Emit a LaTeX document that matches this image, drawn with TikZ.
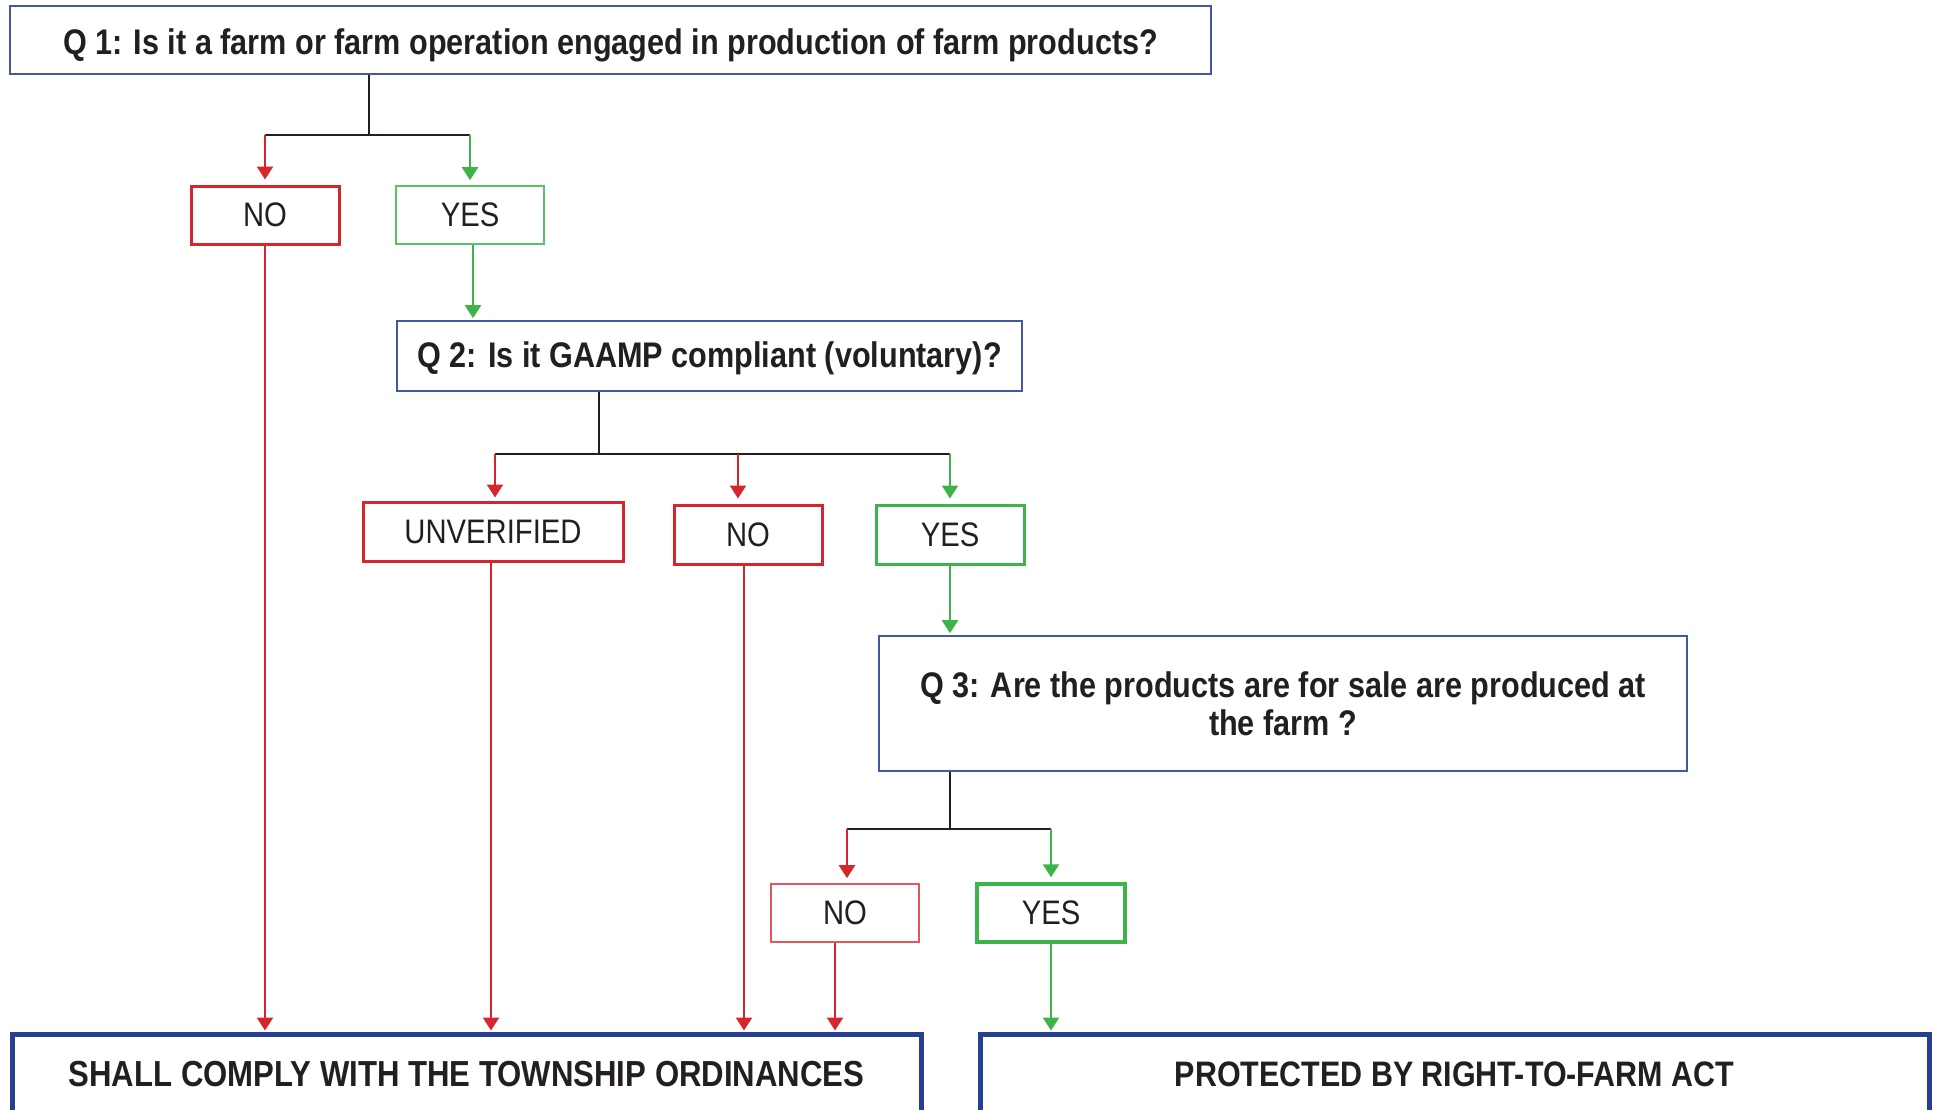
\documentclass[tikz,border=0pt]{standalone}
\usepackage{fontspec}
\setmainfont{Liberation Sans}[FakeStretch=0.86]
\usetikzlibrary{arrows.meta}
\definecolor{qblue}{HTML}{4456A6}
\definecolor{dblue}{HTML}{263F92}
\definecolor{rd}{HTML}{D6262D}
\definecolor{lrd}{HTML}{E0575C}
\definecolor{gr}{HTML}{3DB449}
\definecolor{lgr}{HTML}{5CC067}
\definecolor{txt}{HTML}{231F20}
\begin{document}
\begin{tikzpicture}[x=1pt,y=-1pt,
  box/.style={draw, inner sep=0pt, align=center, text=txt},
  qbox/.style={box, draw=qblue, line width=1.6pt, font=\fontsize{35.6}{38}\selectfont\bfseries},
  rbox/.style={box, draw=rd, line width=3pt, minimum height=58pt, font=\fontsize{34}{38}\selectfont},
  gbox/.style={box, draw=gr, line width=3pt, minimum height=58pt, font=\fontsize{34}{38}\selectfont},
  endbox/.style={box, draw=dblue, line width=5pt, minimum height=80pt, font=\fontsize{36.2}{38}\selectfont\bfseries},
  bar/.style={draw=txt, line width=2.8pt},
  rarr/.style={draw=rd, line width=2.4pt, -{Triangle[width=16pt,length=13pt]}},
  garr/.style={draw=gr, line width=2.4pt, -{Triangle[width=16pt,length=13pt]}}
]
\useasboundingbox (0,0) rectangle (1935,1109);
\clip (0,0) rectangle (1935,1109);

% boxes
\node[qbox, minimum width=1201pt, minimum height=68pt, text height=28pt, text depth=0pt] (q1) at (610.5,40)
  {Q 1: Is it a farm or farm operation engaged in production of farm products?};
\node[rbox, minimum width=148pt] (no1) at (265,215) {NO};
\node[gbox, draw=lgr, line width=1.6pt, minimum width=148pt] (yes1) at (470,215) {YES};

\node[qbox, minimum width=625pt, minimum height=70pt, text height=23pt, text depth=0pt] (q2) at (709.5,356)
  {Q 2: Is it GAAMP compliant (voluntary)?};
\node[rbox, minimum width=260pt, minimum height=59pt] (unv) at (493,531.5) {UNVERIFIED};
\node[rbox, minimum width=148pt, minimum height=59pt] (no2) at (748,534.5) {NO};
\node[gbox, minimum width=148pt, minimum height=59pt] (yes2) at (950,534.5) {YES};

\node[qbox, minimum width=808pt, minimum height=135pt] (q3) at (1283,703.5)
  {Q 3: Are the products are for sale are produced at\\the farm ?};
\node[rbox, draw=lrd, line width=1.6pt, minimum width=148pt] (no3) at (845,913) {NO};
\node[gbox, line width=3.5pt, minimum width=148pt] (yes3) at (1051,913) {YES};

\node[endbox, minimum width=909pt] (lb) at (466.5,1074)
  {SHALL COMPLY WITH THE TOWNSHIP ORDINANCES};
\node[endbox, minimum width=949pt, font=\fontsize{35.4}{38}\selectfont\bfseries] (rb) at (1454.5,1074)
  {PROTECTED BY RIGHT-TO-FARM ACT};

% junction coordinates
\coordinate (j1) at (369,135);
\coordinate (j1a) at (265,135);
\coordinate (j1b) at (470,135);
\coordinate (j2) at (599,454);
\coordinate (j2a) at (495,454);
\coordinate (j2b) at (738,454);
\coordinate (j2c) at (950,454);
\coordinate (j3) at (950,829);
\coordinate (j3a) at (847,829);
\coordinate (j3b) at (1051,829);
\coordinate (xy1) at (473,0);
\coordinate (xu) at (491,0);
\coordinate (xn2) at (744,0);
\coordinate (xn3) at (835,0);

% level 1
\draw[bar] (q1.south -| j1) -- (j1);
\draw[bar] (j1a) -- (j1b);
\draw[rarr, shorten >=5pt] (j1a) -- (no1.north);
\draw[garr, shorten >=5pt] (j1b) -- (yes1.north);
\draw[garr, shorten >=2pt] (yes1.south -| xy1) -- (q2.north -| xy1);
\draw[rarr, shorten >=1pt] (no1.south) -- (lb.north -| no1.south);

% level 2
\draw[bar] (q2.south -| j2) -- (j2);
\draw[bar] (j2a) -- (j2c);
\draw[rarr, shorten >=3pt] (j2a) -- (unv.north -| j2a);
\draw[rarr, shorten >=5pt] (j2b) -- (no2.north -| j2b);
\draw[garr, shorten >=5pt] (j2c) -- (yes2.north);
\draw[garr, shorten >=2pt] (yes2.south) -- (q3.north -| yes2.south);
\draw[rarr, shorten >=1pt] (unv.south -| xu) -- (lb.north -| xu);
\draw[rarr, shorten >=1pt] (no2.south -| xn2) -- (lb.north -| xn2);

% level 3
\draw[bar] (q3.south -| j3) -- (j3);
\draw[bar] (j3a) -- (j3b);
\draw[rarr, shorten >=5pt] (j3a) -- (no3.north -| j3a);
\draw[garr, shorten >=5pt] (j3b) -- (yes3.north);
\draw[rarr, shorten >=1pt] (no3.south -| xn3) -- (lb.north -| xn3);
\draw[garr, shorten >=1pt] (yes3.south) -- (rb.north -| yes3.south);
\end{tikzpicture}
\end{document}
